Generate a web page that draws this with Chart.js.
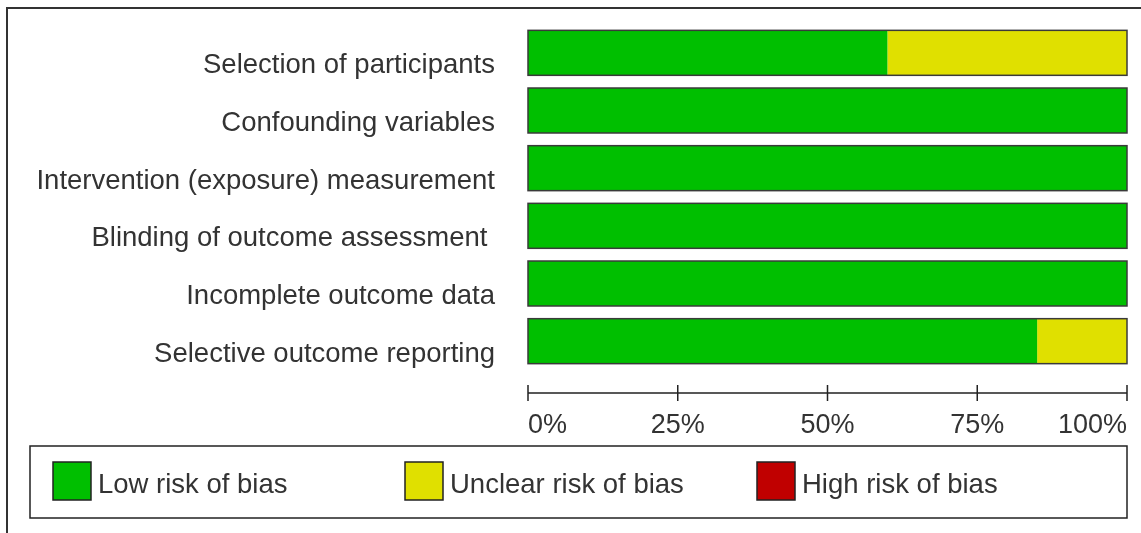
<!DOCTYPE html>
<html><head><meta charset="utf-8">
<script src="https://cdn.jsdelivr.net/npm/chart.js@4/dist/chart.umd.min.js"></script>
<style>html,body{margin:0;padding:0;background:#fff;}#wrap{width:1141px;height:533px;position:relative;}</style>
</head><body><div id="wrap"><canvas id="c"></canvas></div>
<script>
const categories = [
  'Selection of participants',
  'Confounding variables',
  'Intervention (exposure) measurement',
  'Blinding of outcome assessment ',
  'Incomplete outcome data',
  'Selective outcome reporting'
];
const lowRisk = [60, 100, 100, 100, 100, 85];
const unclearRisk = [40, 0, 0, 0, 0, 15];
const highRisk = [0, 0, 0, 0, 0, 0];
const seriesLabels = ['Low risk of bias', 'Unclear risk of bias', 'High risk of bias'];
const seriesColors = ['#00BF00', '#E0E000', '#C00000'];
const tickValues = [0, 25, 50, 75, 100];

const FONT = 'Liberation Sans, Arial, Helvetica, sans-serif';
const TEXT = '#333333';

const decor = {
  id: 'decor',
  beforeDraw(chart) {
    const ctx = chart.ctx;
    ctx.save();
    ctx.fillStyle = '#fff';
    ctx.fillRect(0, 0, chart.width, chart.height);
    ctx.strokeStyle = '#333';
    ctx.lineWidth = 2;
    ctx.beginPath();
    ctx.moveTo(7, chart.height + 5);
    ctx.lineTo(7, 8);
    ctx.lineTo(chart.width + 5, 8);
    ctx.stroke();
    ctx.restore();
  },
  afterDatasetsDraw(chart) {
    const ctx = chart.ctx, xs = chart.scales.x;
    const meta = chart.getDatasetMeta(0);
    ctx.save();
    ctx.strokeStyle = '#3a3a3a';
    ctx.lineWidth = 1.5;
    meta.data.forEach((bar, i) => {
      const p = bar.getProps(['y', 'height'], true);
      const total = chart.data.datasets.reduce((s, d) => s + d.data[i], 0);
      const x0 = xs.getPixelForValue(0), x1 = xs.getPixelForValue(total);
      ctx.strokeRect(x0, p.y - p.height / 2, x1 - x0, p.height);
    });
    const ay = chart.chartArea.bottom + 23;
    ctx.strokeStyle = '#222';
    ctx.lineWidth = 1.5;
    ctx.beginPath();
    ctx.moveTo(xs.getPixelForValue(tickValues[0]), ay);
    ctx.lineTo(xs.getPixelForValue(tickValues[tickValues.length - 1]), ay);
    tickValues.forEach(v => {
      const x = xs.getPixelForValue(v);
      ctx.moveTo(x, ay - 8);
      ctx.lineTo(x, ay + 8);
    });
    ctx.stroke();
    ctx.strokeStyle = '#222';
    ctx.lineWidth = 1.5;
    ctx.strokeRect(30, 446, 1097, 72);
    ctx.font = '27.5px ' + FONT;
    ctx.textBaseline = 'middle';
    ctx.textAlign = 'left';
    chart.data.datasets.forEach((ds, i) => {
      const x = 53 + i * 352;
      ctx.fillStyle = ds.backgroundColor;
      ctx.fillRect(x, 462, 38, 38);
      ctx.strokeRect(x, 462, 38, 38);
      ctx.fillStyle = TEXT;
      ctx.fillText(ds.label, x + 45, 485);
    });
    ctx.restore();
  }
};

new Chart(document.getElementById('c'), {
  type: 'bar',
  data: {
    labels: categories,
    datasets: [
      { label: seriesLabels[0], data: lowRisk, backgroundColor: seriesColors[0] },
      { label: seriesLabels[1], data: unclearRisk, backgroundColor: seriesColors[1] },
      { label: seriesLabels[2], data: highRisk, backgroundColor: seriesColors[2] }
    ]
  },
  options: {
    indexAxis: 'y',
    responsive: true,
    maintainAspectRatio: false,
    animation: false,
    layout: { padding: { top: 24, right: 14, bottom: 0, left: 0 } },
    datasets: { bar: { categoryPercentage: 1, barPercentage: 0.78, borderWidth: 0 } },
    plugins: { legend: { display: false }, tooltip: { enabled: false } },
    scales: {
      x: {
        type: 'linear', min: 0, max: 100, stacked: true, position: 'bottom',
        afterBuildTicks(s) { s.ticks = tickValues.map(v => ({ value: v })); },
        ticks: {
          align: 'inner', padding: 39, color: TEXT, autoSkip: false, maxRotation: 0,
          font: { family: FONT, size: 27 },
          callback: v => v + '%'
        },
        grid: { display: false, drawTicks: false },
        border: { display: false },
        afterFit(s) { s.height = 163; s.paddingLeft = 0; s.paddingRight = 0; }
      },
      y: {
        type: 'category', stacked: true, offset: true,
        grid: { display: false, drawTicks: false },
        border: { display: false },
        ticks: { padding: 33, labelOffset: 13, color: TEXT, font: { family: FONT, size: 27.5 } },
        afterFit(s) { s.width = 528; s.paddingTop = 0; s.paddingBottom = 0; }
      }
    }
  },
  plugins: [decor]
});
</script>
</body></html>
